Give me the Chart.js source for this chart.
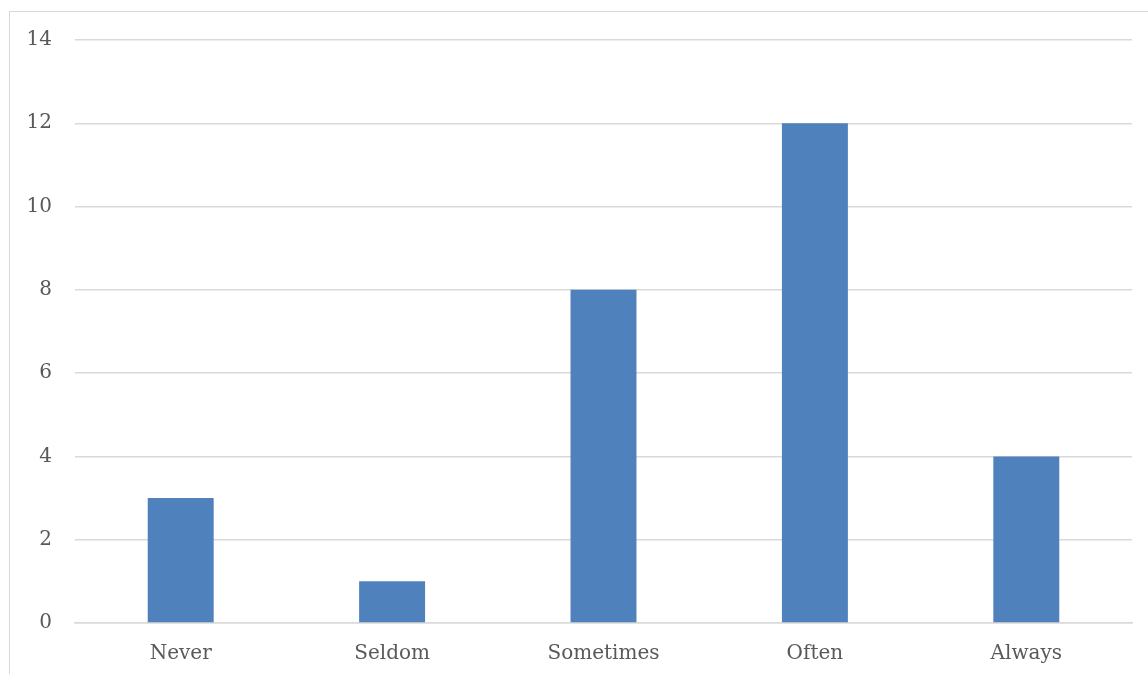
<!DOCTYPE html>
<html><head><meta charset="utf-8">
<script src="https://cdn.jsdelivr.net/npm/chart.js@4.4.0/dist/chart.umd.min.js"></script>
<style>
html,body{margin:0;padding:0;background:#fff;overflow:hidden;}
#frame{position:absolute;left:9px;top:11px;width:1200px;height:700px;border-left:1px solid #d9d9d9;border-top:1px solid #d9d9d9;}
#wrap{position:absolute;left:0;top:0;width:1148px;height:674px;}
</style></head>
<body>
<div id="frame"></div>
<div id="wrap"><canvas id="c" width="1148" height="674"></canvas></div>
<script>
const categories = ["Never", "Seldom", "Sometimes", "Often", "Always"];
const values = [3, 1, 8, 12, 4];
const yTicks = [0, 2, 4, 6, 8, 10, 12, 14];

const font = {family: "'DejaVu Serif', serif", size: 20};
new Chart(document.getElementById('c'), {
  type: 'bar',
  data: {
    labels: categories,
    datasets: [{data: values, backgroundColor: '#4f81bd', barPercentage: 0.312, categoryPercentage: 1}]
  },
  options: {
    responsive: false,
    animation: false,
    layout: {padding: {left: 0, right: 16, top: 40, bottom: 0}},
    plugins: {legend: {display: false}, tooltip: {enabled: false}},
    scales: {
      x: {
        grid: {display: false},
        border: {display: true, color: '#d9d9d9', width: 1.5},
        ticks: {color: '#595959', font: font, padding: 11},
        afterFit: s => { s.height = 51; }
      },
      y: {
        min: 0, max: 14,
        afterBuildTicks: s => { s.ticks = yTicks.map(v => ({value: v})); },
        grid: {color: '#d9d9d9', lineWidth: 1.5, drawTicks: false},
        border: {display: false},
        ticks: {color: '#595959', font: font, padding: 23},
        afterFit: s => { s.width = 75; }
      }
    }
  }
});
</script>
</body></html>
